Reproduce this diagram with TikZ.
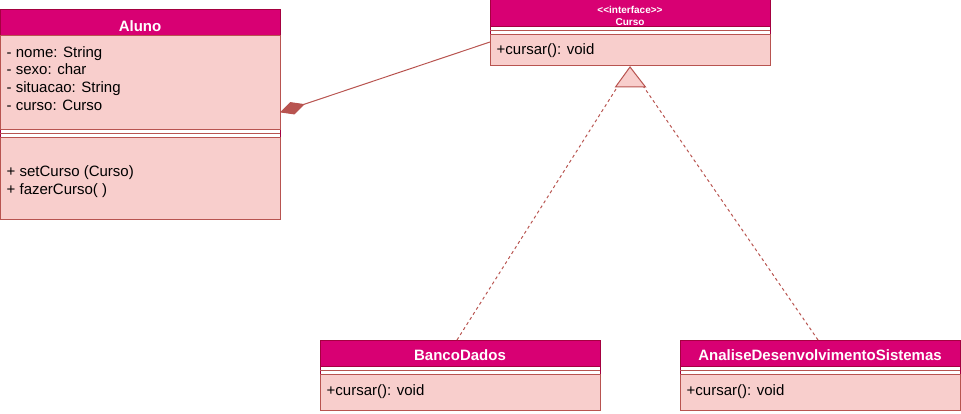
\documentclass[tikz,border=0pt]{standalone}
\usepackage{fontspec}
\setmainfont{Liberation Sans}
\usetikzlibrary{arrows.meta}
\definecolor{hdrfill}{HTML}{D80073}
\definecolor{hdrline}{HTML}{A50040}
\definecolor{bodyfill}{HTML}{F8CECC}
\definecolor{bodyline}{HTML}{B85450}
\begin{document}
\begin{tikzpicture}[x=1pt,y=-1pt,
  box/.style={rectangle, anchor=north west, inner sep=0pt, outer sep=0pt, line width=1pt, minimum width=280pt},
  hdr/.style={box, fill=hdrfill, draw=hdrline},
  bdy/.style={box, fill=bodyfill, draw=bodyline},
  cont/.style={box, fill=white, draw=hdrline},
  sepline/.style={draw=bodyline, line width=1pt},
  txt/.style={inner sep=0pt, anchor=base west, font=\fontsize{15}{18}\selectfont, text=black},
  htxt/.style={inner sep=0pt, anchor=base, font=\fontsize{15}{18}\selectfont\bfseries, text=white},
  stxt/.style={inner sep=0pt, anchor=base, font=\fontsize{10}{12}\selectfont\bfseries, text=white},
  rel/.style={draw=bodyline, line width=1pt},
  realiz/.style={draw=bodyline, line width=1pt, dash pattern=on 3pt off 3pt}]
\useasboundingbox (0,0) rectangle (961,414);

% ---------- Aluno ----------
\node[cont, minimum height=210pt] (alunoC) at (0,10) {};
\node[hdr, minimum height=26pt] (alunoH) at (0,10) {};
\node[bdy, minimum height=94pt] (alunoA) at (0,36) {};
\draw[sepline] (0,134) -- (280,134);
\node[bdy, minimum height=82pt] (alunoM) at (0,138) {};
\node[htxt] (alunoT) at (140,31.5) {Aluno};
\node[txt] (a1) at (6.5,57.3) {- nome: String};
\node[txt] (a2) at (6.5,75) {- sexo: char};
\node[txt] (a3) at (6.5,92.7) {- situacao: String};
\node[txt] (a4) at (6.5,110.4) {- curso: Curso};
\node[txt] (m1) at (6.5,176.7) {+ setCurso (Curso)};
\node[txt] (m2) at (6.5,194.4) {+ fazerCurso( )};

% ---------- Curso ----------
\node[cont, minimum height=66pt] (cursoC) at (490,0) {};
\node[hdr, minimum height=27pt] (cursoH) at (490,0) {};
\draw[sepline] (490,31) -- (770,31);
\node[bdy, minimum height=31pt] (cursoM) at (490,35) {};
\node[stxt] (cursoS) at (630,13.5) {<{}<interface>{}>};
\node[stxt] (cursoT) at (630,25.5) {Curso};
\node[txt] (cm) at (496.5,55) {+cursar(): void};

% ---------- BancoDados ----------
\node[cont, minimum height=70pt] (bdC) at (320,340) {};
\node[hdr, minimum height=26pt] (bdH) at (320,340) {};
\draw[sepline] (320,370) -- (600,370);
\node[bdy, minimum height=36pt] (bdM) at (320,374) {};
\node[htxt] (bdT) at (460,360) {BancoDados};
\node[txt] (bdm) at (326.5,395) {+cursar(): void};

% ---------- AnaliseDesenvolvimentoSistemas ----------
\node[cont, minimum height=70pt] (adC) at (680,340) {};
\node[hdr, minimum height=26pt] (adH) at (680,340) {};
\draw[sepline] (680,370) -- (960,370);
\node[bdy, minimum height=36pt] (adM) at (680,374) {};
\node[htxt] (adT) at (820,360) {AnaliseDesenvolvimentoSistemas};
\node[txt] (adm) at (686.5,395) {+cursar(): void};

% ---------- connectors ----------
\coordinate (dA) at (280,112.4);
\coordinate (dC) at (490,42);
\draw[rel, {Diamond[length=26pt,width=13pt,fill=bodyline]}-] (dA) -- (dC);

\coordinate (apex) at (630,67);
\coordinate (bdTop) at (457,340);
\coordinate (adTop) at (818,340);
\draw[realiz] (bdTop) -- (apex);
\draw[realiz] (adTop) -- (apex);
\filldraw[fill=bodyfill, draw=bodyline, line width=1pt] (apex) -- (615.5,87) -- (645.5,87) -- cycle;
\end{tikzpicture}
\end{document}
